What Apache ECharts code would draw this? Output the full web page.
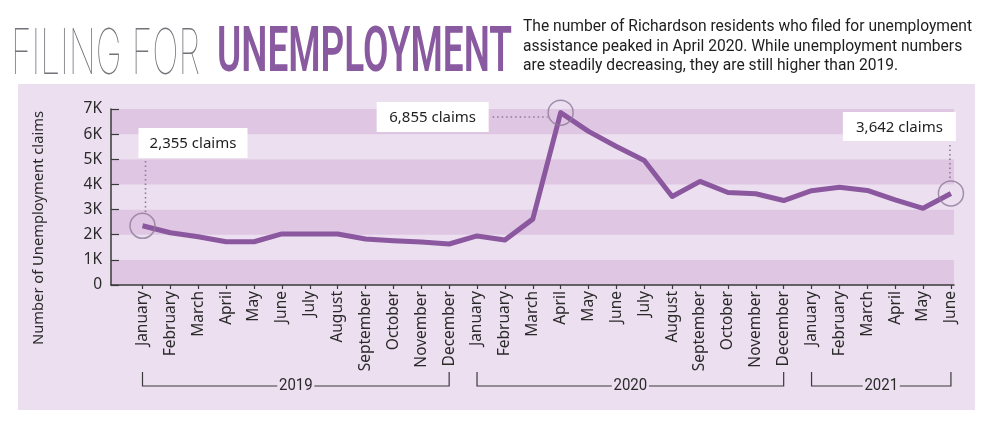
<!DOCTYPE html>
<html><head><meta charset="utf-8">
<script src="https://cdn.jsdelivr.net/npm/echarts@6/dist/echarts.min.js"></script>
<style>html,body{margin:0;padding:0;background:#fff}#c{width:1000px;height:431px}</style>
</head><body><div id="c"></div>
<script>
// ---------- data ----------
const months = ['January','February','March','April','May','June','July','August','September','October','November','December',
  'January','February','March','April','May','June','July','August','September','October','November','December',
  'January','February','March','April','May','June'];
const claims = [2355,2080,1920,1720,1720,2030,2030,2030,1830,1760,1710,1630,
  1950,1790,2620,6855,6110,5510,4950,3520,4120,3680,3630,3360,
  3750,3890,3760,3390,3050,3642];
const yearLabels = ['2019','2020','2021'];
const yearFirstIndex = [0,12,24];
const yearLastIndex = [11,23,29];
const yTickLabels = ['0','1K','2K','3K','4K','5K','6K','7K'];
const calloutIndex = [0,15,29];
const calloutText = ['2,355 claims','6,855 claims','3,642 claims'];
const titleLight = 'FILING FOR';
const titleBold = 'UNEMPLOYMENT';
const subtitleLines = ['The number of Richardson residents who filed for unemployment',
  'assistance peaked in April 2020. While unemployment numbers',
  'are steadily decreasing, they are still higher than 2019.'];
const yAxisTitle = 'Number of Unemployment claims';

// ---------- style ----------
const PANEL = '#ecdff0', BAND = '#dfc7e3', LINE = '#8b589f', RING = '#8f7898', INK = '#2a2a2a';
const FONT = "Noto Sans";
const idx = months.map((m,i)=>i);

const chart = echarts.init(document.getElementById('c'), null, {renderer:'canvas'});
chart.setOption({
  animation:false,
  grid:{left:111, right:46, top:109, bottom:146, containLabel:false},
  xAxis:{type:'value', min:-1.13, max:29.11,
    axisLine:{show:true, onZero:false, lineStyle:{color:'#3a3a3a', width:1.5}},
    axisTick:{show:true, customValues:idx, length:4, lineStyle:{color:'#3a3a3a', width:1.2}},
    axisLabel:{show:true, customValues:idx, rotate:90, margin:6, formatter:v=>months[Math.round(v)],
      fontFamily:FONT, fontSize:15.5, color:INK},
    splitLine:{show:false}},
  yAxis:{type:'value', min:0, max:7000, interval:1000,
    axisLine:{show:true, onZero:false, lineStyle:{color:'#3a3a3a', width:1.5}},
    axisTick:{show:true, inside:true, length:8, lineStyle:{color:'#3a3a3a', width:1.2}},
    axisLabel:{margin:9, fontFamily:FONT, fontSize:15.5, color:INK, formatter:v=>yTickLabels[Math.round(v/1000)]},
    splitLine:{show:false},
    splitArea:{show:true, areaStyle:{color:[BAND, PANEL]}}},
  series:[
    {type:'line', data:claims.map((v,i)=>[i,v]), symbol:'none', z:3,
      lineStyle:{color:LINE, width:5, join:'round'}},
    {type:'scatter', data:calloutIndex.map(i=>[i,claims[i]]), symbolSize:25, z:4, silent:true,
      itemStyle:{color:'rgba(0,0,0,0)', borderColor:RING, borderWidth:1.5}}
  ]
});

// ---------- annotations ----------
const mctx = document.createElement('canvas').getContext('2d');
function fit(text, font, target){ mctx.font = font; return target / mctx.measureText(text).width; }
const px = (i,v)=>chart.convertToPixel({xAxisIndex:0, yAxisIndex:0},[i,v]);
const g = [];
g.push({type:'rect', z:-100, silent:true, shape:{x:18,y:84,width:957,height:326}, style:{fill:PANEL}});

// title
const fLight = "100 63px Inter, Lato, Roboto", fBold = "600 63px Roboto";
g.push({type:'text', x:11, y:55, scaleX:fit(titleLight,fLight,189), style:{text:titleLight, font:fLight, fill:'#76727a', verticalAlign:'middle'}});
g.push({type:'text', x:217, y:55, scaleX:fit(titleBold,fBold,295), style:{text:titleBold, font:fBold, fill:'#8a5aa0', verticalAlign:'middle'}});
const fSub = "17px Roboto";
const sSub = fit(subtitleLines[0], fSub, 449);
subtitleLines.forEach((t,k)=>g.push({type:'text', x:523, y:27+k*19.5, scaleX:sSub, style:{text:t, font:fSub, fill:'#1e1e1e', verticalAlign:'middle'}}));

// y axis title
const fY = "15px " + FONT;
g.push({type:'text', x:39, y:228, rotation:Math.PI/2, scaleX:fit(yAxisTitle,fY,234),
  style:{text:yAxisTitle, font:fY, fill:INK, align:'center', verticalAlign:'middle'}});

// year brackets
const by = 386;
yearLabels.forEach((lab,k)=>{
  const x1 = px(yearFirstIndex[k],0)[0], x2 = px(yearLastIndex[k],0)[0];
  g.push({type:'polyline', silent:true, shape:{points:[[x1,by-14],[x1,by],[x2,by],[x2,by-14]]}, style:{stroke:'#3a3a3a', lineWidth:1.2, fill:null}});
  g.push({type:'text', x:(x1+x2)/2, y:by, style:{text:lab, font:"17px Roboto", fill:INK, align:'center', verticalAlign:'middle', backgroundColor:PANEL, padding:[0,2]}, scaleX:0.88, z:10});
});

// callouts
const boxFont = "15px " + FONT;
function box(x,y,w,h,text){
  g.push({type:'rect', z:50, shape:{x:x,y:y,width:w,height:h}, style:{fill:'#fff'}});
  g.push({type:'text', z:51, x:x+w/2, y:y+h/2+1, style:{text:text, font:boxFont, fill:'#1e1e1e', align:'center', verticalAlign:'middle'}});
}
const dash = {stroke:RING, lineWidth:1.6, lineDash:[1.5,3]};
// Jan 2019
let p = px(calloutIndex[0], claims[calloutIndex[0]]);
box(p[0]-4, 128, 109, 30, calloutText[0]);
g.push({type:'line', z:20, shape:{x1:p[0]+3,y1:161,x2:p[0]+3,y2:p[1]-13}, style:dash});
// Apr 2020
p = px(calloutIndex[1], claims[calloutIndex[1]]);
box(p[0]-184, 102, 112, 30, calloutText[1]);
g.push({type:'line', z:20, shape:{x1:p[0]-68,y1:117,x2:p[0]-13,y2:117}, style:dash});
// Jun 2021
p = px(calloutIndex[2], claims[calloutIndex[2]]);
box(p[0]-108, 112, 113, 29, calloutText[2]);
g.push({type:'line', z:20, shape:{x1:p[0]-1,y1:145,x2:p[0]-1,y2:p[1]-13}, style:dash});

chart.setOption({graphic:g});
</script></body></html>
